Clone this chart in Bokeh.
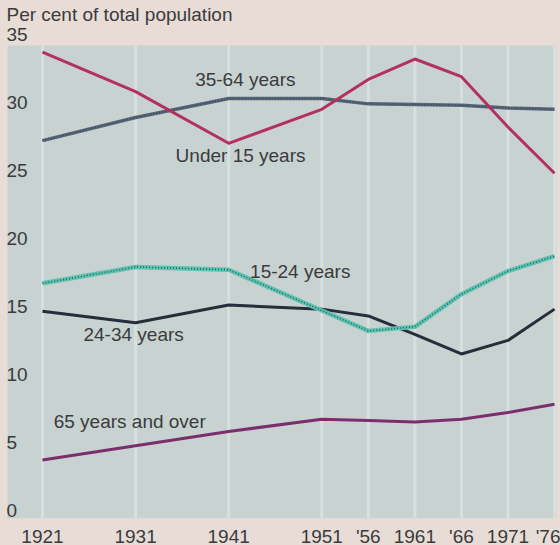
from bokeh.plotting import figure
from bokeh.models import Range1d, FixedTicker
from bokeh.core.properties import value
from bokeh.embed import file_html
from bokeh.resources import INLINE

# ---- data ----
years = [1921, 1931, 1941, 1951, 1956, 1961, 1966, 1971, 1976]
year_labels = ["1921", "1931", "1941", "1951", "'56", "1961", "'66", "1971", "'76"]
under_15 = [33.7, 30.8, 27.0, 29.5, 31.7, 33.2, 31.9, 28.2, 24.8]
age_35_64 = [27.2, 28.9, 30.3, 30.3, 29.9, 29.85, 29.8, 29.6, 29.5]
age_15_24 = [16.7, 17.9, 17.7, 14.7, 13.2, 13.5, 15.9, 17.6, 18.7]
age_24_34 = [14.65, 13.8, 15.1, 14.8, 14.3, 12.95, 11.5, 12.5, 14.8]
age_65_over = [3.7, 4.75, 5.8, 6.7, 6.6, 6.5, 6.7, 7.2, 7.8]
y_ticks = [0, 5, 10, 15, 20, 25, 30, 35]

series_names = ["35-64 years", "Under 15 years", "15-24 years", "24-34 years", "65 years and over"]
label_x = [1937.4, 1935.3, 1943.3, 1925.4, 1922.2]
label_y = [31.7, 26.1, 17.6, 12.9, 6.5]

# ---- styling ----
PAPER = "#e7ddd6"
PANEL = "#c8d2d1"
GRID = "#d7e0df"
TEXT = "#3b3b3d"
FONT = value("Liberation Sans")
FS = "19px"

X0, X1 = 1916.49, 1976.645
Y0, Y1 = -0.603, 37.505
PANEL_LEFT = 1917.24
PANEL_TOP = 34.2
PANEL_RIGHT = 1976.2
TEXT_X = 1917.13

p = figure(frame_width=560, frame_height=518,
           x_range=Range1d(X0, X1), y_range=Range1d(Y0, Y1),
           y_axis_location=None,
           output_backend="svg", toolbar_location=None,
           min_border=0, min_border_left=0, min_border_right=0,
           min_border_top=0)
p.background_fill_color = PAPER
p.border_fill_color = PAPER
p.outline_line_color = None
p.grid.visible = False

# x axis
ax = p.xaxis[0]
ax.ticker = FixedTicker(ticks=years)
ax.major_label_overrides = {y: l for y, l in zip(years, year_labels)}
ax.axis_line_color = None
ax.major_tick_line_color = None
ax.minor_tick_line_color = None
ax.major_tick_out = 0
ax.major_tick_in = 0
ax.major_label_standoff = 7
ax.major_label_text_font = "Liberation Sans"
ax.major_label_text_font_size = FS
ax.major_label_text_color = TEXT

# plot panel
p.quad(left=[PANEL_LEFT], right=[PANEL_RIGHT], bottom=[Y0], top=[PANEL_TOP],
       fill_color=PANEL, line_color=None)
# vertical grid lines
p.segment(x0=years, y0=[Y0] * len(years), x1=years, y1=[PANEL_TOP] * len(years),
          line_color=GRID, line_width=3)

# series lines
p.line(years, age_65_over, line_color="#7a2f6c", line_width=3, line_join="round")
p.line(years, age_24_34, line_color="#272d3b", line_width=3, line_join="round")
p.line(years, age_15_24, line_color="#5cc3b0", line_width=4.5, line_join="round")
p.line(years, age_15_24, line_color="#2f5b63", line_width=1.5, line_dash="1 2")
p.line(years, age_35_64, line_color="#56687a", line_width=3.5, line_join="round")
p.line(years, age_35_64, line_color="#34424e", line_width=1.5, line_dash="1 2")
p.line(years, under_15, line_color="#b3315f", line_width=3, line_join="round")

# y tick labels (inside the panel, as in the original)
p.text(x=[TEXT_X] * len(y_ticks), y=y_ticks, text=[str(v) for v in y_ticks],
       text_align="left", text_baseline="middle", text_font=FONT,
       text_font_size=FS, text_color=TEXT)

# axis title
p.text(x=[TEXT_X], y=[36.47], text=["Per cent of total population"],
       text_align="left", text_baseline="middle", text_font=FONT,
       text_font_size=FS, text_color=TEXT)

# series labels
p.text(x=label_x, y=label_y, text=series_names,
       text_align="left", text_baseline="middle", text_font=FONT,
       text_font_size=FS, text_color=TEXT)

html = file_html(p, INLINE)
html = html.replace("<head>", "<head><style>body{background:%s;}</style>" % PAPER, 1)
open("out.html", "w").write(html)
